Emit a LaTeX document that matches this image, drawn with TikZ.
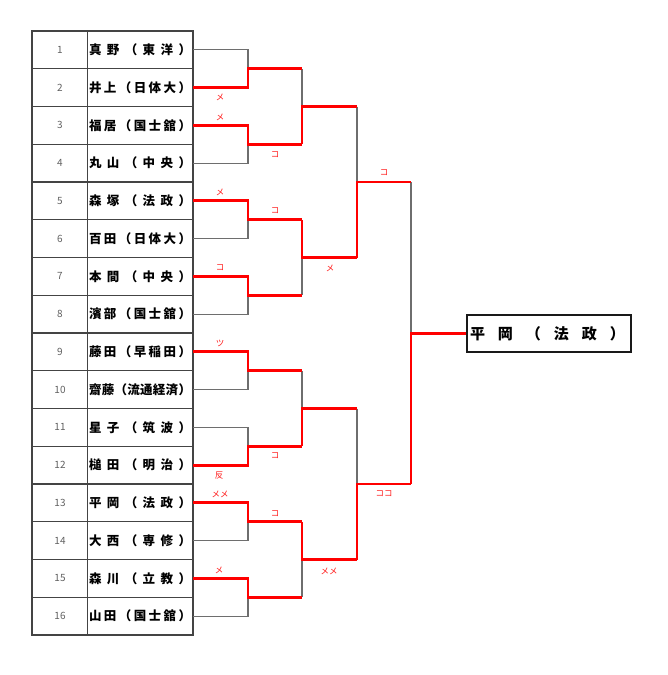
\documentclass[tikz,border=0pt]{standalone}
\usepackage{fontspec}
\setmainfont{Noto Sans CJK JP}
\newcommand\gapf{\hfill}
\definecolor{tblline}{HTML}{444444}
\definecolor{lossline}{HTML}{6E6E6E}
\definecolor{numgray}{HTML}{606060}
\begin{document}
\begin{tikzpicture}[x=1pt,y=-1pt,
  tbl/.style={draw=tblline,line width=1.2pt},
  namecell/.style={inner sep=0pt,font=\fontsize{12.5}{12.5}\selectfont\bfseries},
  numcell/.style={inner sep=0pt,text=numgray,font=\fontsize{10}{10}\selectfont},
  loss/.style={draw=lossline,line width=1.2pt},
  win/.style={draw=red,line width=2.8pt},
  mk/.style={inner sep=0pt,text=red!90!white,font=\fontsize{8.5}{9}\selectfont},
  champbox/.style={draw=black!90,line width=2pt,inner sep=0pt,minimum width=164pt,minimum height=37pt,anchor=west,font=\fontsize{15}{15}\selectfont\bfseries}
]
\useasboundingbox (0,0) rectangle (667,675);
% table
\draw[tbl] (32,31) rectangle (193,635);
\draw[tbl] (87.5,31) -- (87.5,635);
\foreach \i in {1,...,15} \draw[tbl] (32,{31+37.75*\i}) -- (193,{31+37.75*\i});
% numbers and names
\foreach \i in {1,...,16}
  \node[numcell] (n\i) at (60,{31+37.75*(\i-0.5)}) {\i};
\foreach \i/\t in {
  1/{真\gapf 野\gapf （\gapf 東\gapf 洋\gapf ）},
  2/{井\gapf 上\gapf （\gapf 日\gapf 体\gapf 大\gapf ）},
  3/{福\gapf 居\gapf （\gapf 国\gapf 士\gapf 舘\gapf ）},
  4/{丸\gapf 山\gapf （\gapf 中\gapf 央\gapf ）},
  5/{森\gapf 塚\gapf （\gapf 法\gapf 政\gapf ）},
  6/{百\gapf 田\gapf （\gapf 日\gapf 体\gapf 大\gapf ）},
  7/{本\gapf 間\gapf （\gapf 中\gapf 央\gapf ）},
  8/{濱\gapf 部\gapf （\gapf 国\gapf 士\gapf 舘\gapf ）},
  9/{藤\gapf 田\gapf （\gapf 早\gapf 稲\gapf 田\gapf ）},
  10/{齋\gapf 藤\gapf （\gapf 流\gapf 通\gapf 経\gapf 済\gapf ）},
  11/{星\gapf 子\gapf （\gapf 筑\gapf 波\gapf ）},
  12/{槌\gapf 田\gapf （\gapf 明\gapf 治\gapf ）},
  13/{平\gapf 岡\gapf （\gapf 法\gapf 政\gapf ）},
  14/{大\gapf 西\gapf （\gapf 専\gapf 修\gapf ）},
  15/{森\gapf 川\gapf （\gapf 立\gapf 教\gapf ）},
  16/{山\gapf 田\gapf （\gapf 国\gapf 士\gapf 舘\gapf ）}}
  \node[namecell] (p\i) at (140,{31+37.75*(\i-0.5)}) {\makebox[102pt][s]{\t}};
% connection points
\foreach \i in {1,...,16} \coordinate (e\i) at (193,{31+37.75*(\i-0.5)});
\foreach \k in {1,...,8} {
  \coordinate (ja\k) at (248,{31+37.75*(2*\k-1)});
  \coordinate (oa\k) at (302,{31+37.75*(2*\k-1)});
}
\foreach \k in {1,...,4} {
  \coordinate (jb\k) at (302,{31+37.75*(4*\k-2)});
  \coordinate (ob\k) at (357,{31+37.75*(4*\k-2)});
}
\foreach \k in {1,2} {
  \coordinate (jc\k) at (357,{31+37.75*(8*\k-4)});
  \coordinate (oc\k) at (411,{31+37.75*(8*\k-4)});
}
\coordinate (jd) at (411,333.5);
% champion
\node[champbox] (champ) at (466,333.5) {\makebox[164pt][l]{\hspace{3pt}\makebox[155pt][s]{平\gapf 岡\gapf （\gapf 法\gapf 政\gapf ）}}};
% losing lines
\draw[loss] (e1) -| (ja1);
\draw[loss] (e4) -| (ja2);
\draw[loss] (e6) -| (ja3);
\draw[loss] (e8) -| (ja4);
\draw[loss] (e10) -| (ja5);
\draw[loss] (e11) -| (ja6);
\draw[loss] (e14) -| (ja7);
\draw[loss] (e16) -| (ja8);
\draw[loss] (oa1) -- (jb1);
\draw[loss] (oa4) -- (jb2);
\draw[loss] (oa5) -- (jb3);
\draw[loss] (oa8) -- (jb4);
\draw[loss] (ob1) -- (jc1);
\draw[loss] (ob3) -- (jc2);
\draw[loss] (oc1) -- (jd);
% winning lines
\draw[win] (e2) -| (ja1) -- (oa1);
\draw[win] (e3) -| (ja2) -- (oa2);
\draw[win] (e5) -| (ja3) -- (oa3);
\draw[win] (e7) -| (ja4) -- (oa4);
\draw[win] (e9) -| (ja5) -- (oa5);
\draw[win] (e12) -| (ja6) -- (oa6);
\draw[win] (e13) -| (ja7) -- (oa7);
\draw[win] (e15) -| (ja8) -- (oa8);
\draw[win] (oa2) -- (jb1) -- (ob1);
\draw[win] (oa3) -- (jb2) -- (ob2);
\draw[win] (oa6) -- (jb3) -- (ob3);
\draw[win] (oa7) -- (jb4) -- (ob4);
\draw[win] (ob2) -- (jc1) -- (oc1);
\draw[win] (ob4) -- (jc2) -- (oc2);
\draw[win] (oc2) -- (jd) -- (champ.west);
% score marks
\node[mk] (m1) at (220,97) {メ};
\node[mk] (m2) at (220,117) {メ};
\node[mk] (m3) at (275,155) {コ};
\node[mk] (m4) at (220,192) {メ};
\node[mk] (m5) at (275,211) {コ};
\node[mk] (m6) at (220,268) {コ};
\node[mk] (m7) at (330,268) {メ};
\node[mk] (m8) at (384,173) {コ};
\node[mk] (m9) at (220,343) {ツ};
\node[mk] (m10) at (275,456) {コ};
\node[mk] (m11) at (219,476) {反};
\node[mk] (m12) at (220,494) {メメ};
\node[mk] (m13) at (275,514) {コ};
\node[mk] (m14) at (329,571) {メメ};
\node[mk] (m15) at (219,570) {メ};
\node[mk] (m16) at (384,494) {ココ};
\end{tikzpicture}
\end{document}
